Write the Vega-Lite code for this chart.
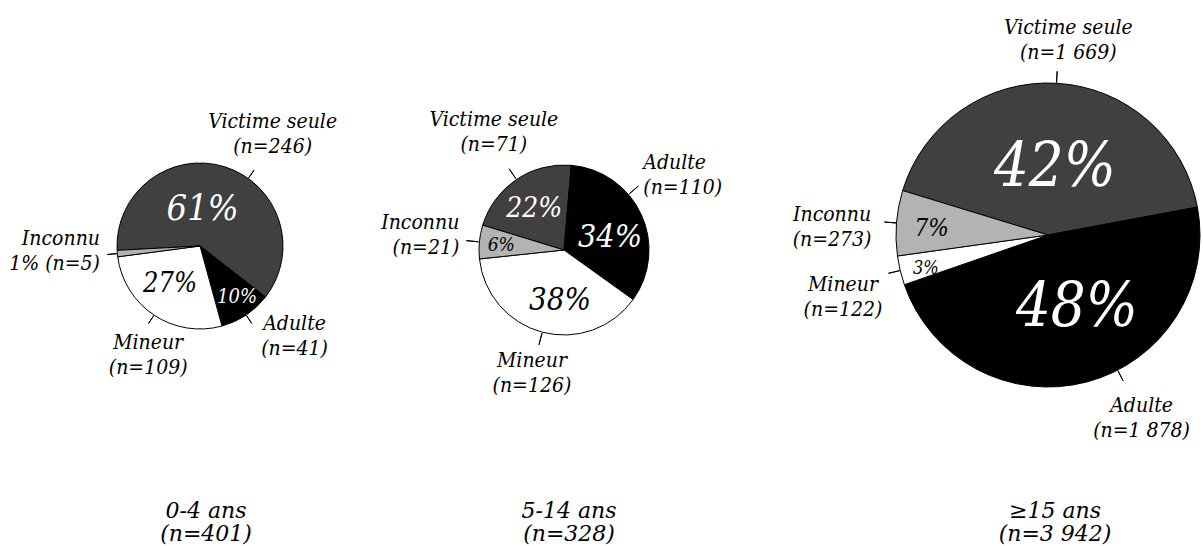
{
  "$schema": "https://vega.github.io/schema/vega-lite/v6.json",
  "padding": 0,
  "spacing": 0,
  "bounds": "flush",
  "background": "white",
  "config": {
    "font": "DejaVu Serif",
    "view": {"stroke": null},
    "text": {"font": "DejaVu Serif Condensed", "fontStyle": "italic", "fontWeight": "normal"},
    "title": {"font": "DejaVu Serif", "fontStyle": "italic", "fontWeight": "normal", "fontSize": 22, "lineHeight": 23, "color": "black"}
  },
  "data": {
    "values": [
      {"age": "0-4 ans", "cat": "Victime seule", "ordre": 1, "n": 246, "pct": "61%", "lab": "Victime seule\n(n=246)"},
      {"age": "0-4 ans", "cat": "Adulte", "ordre": 2, "n": 41, "pct": "10%", "lab": "Adulte\n(n=41)"},
      {"age": "0-4 ans", "cat": "Mineur", "ordre": 3, "n": 109, "pct": "27%", "lab": "Mineur\n(n=109)"},
      {"age": "0-4 ans", "cat": "Inconnu", "ordre": 4, "n": 5, "pct": "", "lab": "Inconnu\n1% (n=5)"},
      {"age": "5-14 ans", "cat": "Victime seule", "ordre": 1, "n": 71, "pct": "22%", "lab": "Victime seule\n(n=71)"},
      {"age": "5-14 ans", "cat": "Adulte", "ordre": 2, "n": 110, "pct": "34%", "lab": "Adulte\n(n=110)"},
      {"age": "5-14 ans", "cat": "Mineur", "ordre": 3, "n": 126, "pct": "38%", "lab": "Mineur\n(n=126)"},
      {"age": "5-14 ans", "cat": "Inconnu", "ordre": 4, "n": 21, "pct": "6%", "lab": "Inconnu\n(n=21)"},
      {"age": "≥15 ans", "cat": "Victime seule", "ordre": 1, "n": 1669, "pct": "42%", "lab": "Victime seule\n(n=1 669)"},
      {"age": "≥15 ans", "cat": "Adulte", "ordre": 2, "n": 1878, "pct": "48%", "lab": "Adulte\n(n=1 878)"},
      {"age": "≥15 ans", "cat": "Mineur", "ordre": 3, "n": 122, "pct": "3%", "lab": "Mineur\n(n=122)"},
      {"age": "≥15 ans", "cat": "Inconnu", "ordre": 4, "n": 273, "pct": "7%", "lab": "Inconnu\n(n=273)"}
    ]
  },
  "hconcat": [
    {
      "width": 400,
      "height": 482,
      "transform": [{"filter": {"field": "age", "equal": "0-4 ans"}}],
      "title": {"text": ["0-4 ans", "(n=401)"], "orient": "bottom", "offset": 14, "dx": 6, "anchor": "middle", "frame": "group", "baseline": "top"},
      "encoding": {
        "theta": {"field": "n", "type": "quantitative", "stack": "normalize", "scale": {"range": [-1.623156, 4.660029]}},
        "order": {"field": "ordre", "type": "quantitative"}
      },
      "layer": [
        {"mark": {"type": "arc", "outerRadius": 83, "stroke": "black", "strokeWidth": 1},
         "encoding": {"color": {"field": "cat", "type": "nominal", "scale": {"domain": ["Victime seule", "Adulte", "Mineur", "Inconnu"], "range": ["#404040", "#000000", "#ffffff", "#b3b3b3"]}, "legend": null}}},
        {"mark": {"type": "arc", "innerRadius": 83.5, "outerRadius": 93, "padAngle": 3.14, "stroke": "black", "strokeWidth": 1, "fillOpacity": 0},
         "encoding": {"strokeOpacity": {"condition": {"test": "datum.cat === 'Victime seule'", "value": 0}, "value": 1}}},
        {"mark": {"type": "arc", "innerRadius": 83.5, "outerRadius": 93, "thetaOffset": 2.24275, "theta2Offset": 2.24275, "stroke": "black", "strokeWidth": 1, "fillOpacity": 0},
         "encoding": {"theta": {"field": "n", "type": "quantitative", "stack": "normalize", "bandPosition": 0, "scale": {"range": [-1.623156, 4.660029]}},
                      "strokeOpacity": {"condition": {"test": "datum.cat === 'Victime seule'", "value": 1}, "value": 0}}},
        {"mark": {"type": "text", "radius": 37.1, "fontSize": 36, "color": "white", "align": "center", "baseline": "middle"},
         "encoding": {"theta": {"field": "n", "type": "quantitative", "stack": "normalize", "bandPosition": 0.439, "scale": {"range": [-1.623156, 4.660029]}},
                      "text": {"condition": {"test": "datum.cat === 'Victime seule'", "field": "pct"}, "value": ""}}},
        {"mark": {"type": "text", "radius": 62.8, "fontSize": 20, "color": "white", "align": "center", "baseline": "middle"},
         "encoding": {"theta": {"field": "n", "type": "quantitative", "stack": "normalize", "bandPosition": 0.431, "scale": {"range": [-1.623156, 4.660029]}},
                      "text": {"condition": {"test": "datum.cat === 'Adulte'", "field": "pct"}, "value": ""}}},
        {"mark": {"type": "text", "radius": 48.7, "fontSize": 27, "color": "black", "align": "center", "baseline": "middle"},
         "encoding": {"theta": {"field": "n", "type": "quantitative", "stack": "normalize", "bandPosition": 0.545, "scale": {"range": [-1.623156, 4.660029]}},
                      "text": {"condition": {"test": "datum.cat === 'Mineur'", "field": "pct"}, "value": ""}}},
        {"mark": {"type": "text", "radius": 133, "dy": -12.5, "fontSize": 21, "lineHeight": 25, "lineBreak": "\n", "color": "black", "align": "center", "baseline": "middle"},
         "encoding": {"theta": {"field": "n", "type": "quantitative", "stack": "normalize", "bandPosition": 0.571, "scale": {"range": [-1.623156, 4.660029]}},
                      "text": {"condition": {"test": "datum.cat === 'Victime seule'", "field": "lab"}, "value": ""}}},
        {"mark": {"type": "text", "radius": 131.2, "dy": -12.5, "fontSize": 21, "lineHeight": 25, "lineBreak": "\n", "color": "black", "align": "center", "baseline": "middle"},
         "encoding": {"theta": {"field": "n", "type": "quantitative", "stack": "normalize", "bandPosition": 0.164, "scale": {"range": [-1.623156, 4.660029]}},
                      "text": {"condition": {"test": "datum.cat === 'Adulte'", "field": "lab"}, "value": ""}}},
        {"mark": {"type": "text", "radius": 121, "dy": -12.5, "fontSize": 21, "lineHeight": 25, "lineBreak": "\n", "color": "black", "align": "center", "baseline": "middle"},
         "encoding": {"theta": {"field": "n", "type": "quantitative", "stack": "normalize", "bandPosition": 0.416, "scale": {"range": [-1.623156, 4.660029]}},
                      "text": {"condition": {"test": "datum.cat === 'Mineur'", "field": "lab"}, "value": ""}}},
        {"mark": {"type": "text", "radius": 100.2, "dy": -12.5, "fontSize": 21, "lineHeight": 25, "lineBreak": "\n", "color": "black", "align": "right", "baseline": "middle"},
         "encoding": {"theta": {"field": "n", "type": "quantitative", "stack": "normalize", "bandPosition": 0.91, "scale": {"range": [-1.623156, 4.660029]}},
                      "text": {"condition": {"test": "datum.cat === 'Inconnu'", "field": "lab"}, "value": ""}}}
      ]
    },
    {
      "spacing": 165,
      "bounds": "flush",
      "hconcat": [
        {
          "width": 328,
          "height": 490,
          "transform": [{"filter": {"field": "age", "equal": "5-14 ans"}}],
          "title": {"text": ["5-14 ans", "(n=328)"], "orient": "bottom", "offset": 6, "dx": 5, "anchor": "middle", "frame": "group", "baseline": "top"},
          "encoding": {
            "theta": {"field": "n", "type": "quantitative", "stack": "normalize", "scale": {"range": [-1.27409, 5.009095]}},
            "order": {"field": "ordre", "type": "quantitative"}
          },
          "layer": [
            {"mark": {"type": "arc", "outerRadius": 85, "stroke": "black", "strokeWidth": 1},
             "encoding": {"color": {"field": "cat", "type": "nominal", "scale": {"domain": ["Victime seule", "Adulte", "Mineur", "Inconnu"], "range": ["#404040", "#000000", "#ffffff", "#b3b3b3"]}, "legend": null}}},
            {"mark": {"type": "arc", "innerRadius": 86, "outerRadius": 98, "padAngle": 3.14, "stroke": "black", "strokeWidth": 1, "fillOpacity": 0},
             "encoding": {"strokeOpacity": {"condition": {"test": "datum.cat === 'Adulte'", "value": 0}, "value": 1}}},
            {"mark": {"type": "arc", "innerRadius": 86, "outerRadius": 98, "padAngle": 3.14, "stroke": "black", "strokeWidth": 1, "fillOpacity": 0},
             "encoding": {"theta": {"field": "n", "type": "quantitative", "stack": "normalize", "bandPosition": 0.735, "scale": {"range": [-1.27409, 5.009095]}},
                          "strokeOpacity": {"condition": {"test": "datum.cat === 'Adulte'", "value": 1}, "value": 0}}},
            {"mark": {"type": "text", "radius": 50.9, "fontSize": 28, "color": "white", "align": "center", "baseline": "middle"},
             "encoding": {"theta": {"field": "n", "type": "quantitative", "stack": "normalize", "bandPosition": 0.477, "scale": {"range": [-1.27409, 5.009095]}},
                          "text": {"condition": {"test": "datum.cat === 'Victime seule'", "field": "pct"}, "value": ""}}},
            {"mark": {"type": "text", "radius": 47.8, "fontSize": 32, "color": "white", "align": "center", "baseline": "middle"},
             "encoding": {"theta": {"field": "n", "type": "quantitative", "stack": "normalize", "bandPosition": 0.575, "scale": {"range": [-1.27409, 5.009095]}},
                          "text": {"condition": {"test": "datum.cat === 'Adulte'", "field": "pct"}, "value": ""}}},
            {"mark": {"type": "text", "radius": 50.7, "fontSize": 31, "color": "black", "align": "center", "baseline": "middle"},
             "encoding": {"theta": {"field": "n", "type": "quantitative", "stack": "normalize", "bandPosition": 0.425, "scale": {"range": [-1.27409, 5.009095]}},
                          "text": {"condition": {"test": "datum.cat === 'Mineur'", "field": "pct"}, "value": ""}}},
            {"mark": {"type": "text", "radius": 63, "fontSize": 19, "color": "black", "align": "center", "baseline": "middle"},
             "encoding": {"theta": {"field": "n", "type": "quantitative", "stack": "normalize", "bandPosition": 0.46, "scale": {"range": [-1.27409, 5.009095]}},
                          "text": {"condition": {"test": "datum.cat === 'Inconnu'", "field": "pct"}, "value": ""}}},
            {"mark": {"type": "text", "radius": 137, "dy": -12.5, "fontSize": 21, "lineHeight": 25, "lineBreak": "\n", "color": "black", "align": "center", "baseline": "middle"},
             "encoding": {"theta": {"field": "n", "type": "quantitative", "stack": "normalize", "bandPosition": 0.5415, "scale": {"range": [-1.27409, 5.009095]}},
                          "text": {"condition": {"test": "datum.cat === 'Victime seule'", "field": "lab"}, "value": ""}}},
            {"mark": {"type": "text", "radius": 108.9, "dy": -12.5, "fontSize": 21, "lineHeight": 25, "lineBreak": "\n", "color": "black", "align": "left", "baseline": "middle"},
             "encoding": {"theta": {"field": "n", "type": "quantitative", "stack": "normalize", "bandPosition": 0.346, "scale": {"range": [-1.27409, 5.009095]}},
                          "text": {"condition": {"test": "datum.cat === 'Adulte'", "field": "lab"}, "value": ""}}},
            {"mark": {"type": "text", "radius": 127.7, "dy": -12.5, "fontSize": 21, "lineHeight": 25, "lineBreak": "\n", "color": "black", "align": "center", "baseline": "middle"},
             "encoding": {"theta": {"field": "n", "type": "quantitative", "stack": "normalize", "bandPosition": 0.498, "scale": {"range": [-1.27409, 5.009095]}},
                          "text": {"condition": {"test": "datum.cat === 'Mineur'", "field": "lab"}, "value": ""}}},
            {"mark": {"type": "text", "radius": 105.7, "dy": -12.5, "fontSize": 21, "lineHeight": 25, "lineBreak": "\n", "color": "black", "align": "right", "baseline": "middle"},
             "encoding": {"theta": {"field": "n", "type": "quantitative", "stack": "normalize", "bandPosition": 0.61, "scale": {"range": [-1.27409, 5.009095]}},
                          "text": {"condition": {"test": "datum.cat === 'Inconnu'", "field": "lab"}, "value": ""}}}
          ]
        },
        {
          "width": 310,
          "height": 460,
          "transform": [{"filter": {"field": "age", "equal": "≥15 ans"}}],
          "title": {"text": ["≥15 ans", "(n=3 942)"], "orient": "bottom", "offset": 36, "dx": 7, "anchor": "middle", "frame": "group", "baseline": "top"},
          "encoding": {
            "theta": {"field": "n", "type": "quantitative", "stack": "normalize", "scale": {"range": [-1.27409, 5.009095]}},
            "order": {"field": "ordre", "type": "quantitative"}
          },
          "layer": [
            {"mark": {"type": "arc", "outerRadius": 152, "stroke": "black", "strokeWidth": 1},
             "encoding": {"color": {"field": "cat", "type": "nominal", "scale": {"domain": ["Victime seule", "Adulte", "Mineur", "Inconnu"], "range": ["#404040", "#000000", "#ffffff", "#b3b3b3"]}, "legend": null}}},
            {"mark": {"type": "arc", "innerRadius": 152.5, "outerRadius": 164, "padAngle": 3.14, "stroke": "black", "strokeWidth": 1, "fillOpacity": 0},
             "encoding": {"strokeOpacity": {"condition": {"test": "datum.cat === 'Adulte'", "value": 0}, "value": 1}}},
            {"mark": {"type": "arc", "innerRadius": 152.5, "outerRadius": 164, "padAngle": 3.14, "stroke": "black", "strokeWidth": 1, "fillOpacity": 0},
             "encoding": {"theta": {"field": "n", "type": "quantitative", "stack": "normalize", "bandPosition": 0.855, "scale": {"range": [-1.27409, 5.009095]}},
                          "strokeOpacity": {"condition": {"test": "datum.cat === 'Adulte'", "value": 1}, "value": 0}}},
            {"mark": {"type": "text", "radius": 67, "fontSize": 61, "color": "white", "align": "center", "baseline": "middle"},
             "encoding": {"theta": {"field": "n", "type": "quantitative", "stack": "normalize", "bandPosition": 0.518, "scale": {"range": [-1.27409, 5.009095]}},
                          "text": {"condition": {"test": "datum.cat === 'Victime seule'", "field": "pct"}, "value": ""}}},
            {"mark": {"type": "text", "radius": 78.1, "fontSize": 61, "color": "white", "align": "center", "baseline": "middle"},
             "encoding": {"theta": {"field": "n", "type": "quantitative", "stack": "normalize", "bandPosition": 0.46, "scale": {"range": [-1.27409, 5.009095]}},
                          "text": {"condition": {"test": "datum.cat === 'Adulte'", "field": "pct"}, "value": ""}}},
            {"mark": {"type": "text", "radius": 126.9, "fontSize": 18, "color": "black", "align": "center", "baseline": "middle"},
             "encoding": {"theta": {"field": "n", "type": "quantitative", "stack": "normalize", "bandPosition": 0.31, "scale": {"range": [-1.27409, 5.009095]}},
                          "text": {"condition": {"test": "datum.cat === 'Mineur'", "field": "pct"}, "value": ""}}},
            {"mark": {"type": "text", "radius": 116.5, "fontSize": 24, "color": "black", "align": "center", "baseline": "middle"},
             "encoding": {"theta": {"field": "n", "type": "quantitative", "stack": "normalize", "bandPosition": 0.446, "scale": {"range": [-1.27409, 5.009095]}},
                          "text": {"condition": {"test": "datum.cat === 'Inconnu'", "field": "pct"}, "value": ""}}},
            {"mark": {"type": "text", "radius": 196, "dy": -12.5, "fontSize": 21, "lineHeight": 25, "lineBreak": "\n", "color": "black", "align": "center", "baseline": "middle"},
             "encoding": {"theta": {"field": "n", "type": "quantitative", "stack": "normalize", "bandPosition": 0.518, "scale": {"range": [-1.27409, 5.009095]}},
                          "text": {"condition": {"test": "datum.cat === 'Victime seule'", "field": "lab"}, "value": ""}}},
            {"mark": {"type": "text", "radius": 206.1, "dy": -12.5, "fontSize": 21, "lineHeight": 25, "lineBreak": "\n", "color": "black", "align": "center", "baseline": "middle"},
             "encoding": {"theta": {"field": "n", "type": "quantitative", "stack": "normalize", "bandPosition": 0.429, "scale": {"range": [-1.27409, 5.009095]}},
                          "text": {"condition": {"test": "datum.cat === 'Adulte'", "field": "lab"}, "value": ""}}},
            {"mark": {"type": "text", "radius": 214.2, "dy": -12.5, "fontSize": 21, "lineHeight": 25, "lineBreak": "\n", "color": "black", "align": "center", "baseline": "middle"},
             "encoding": {"theta": {"field": "n", "type": "quantitative", "stack": "normalize", "bandPosition": 0.2, "scale": {"range": [-1.27409, 5.009095]}},
                          "text": {"condition": {"test": "datum.cat === 'Mineur'", "field": "lab"}, "value": ""}}},
            {"mark": {"type": "text", "radius": 216.1, "dy": -12.5, "fontSize": 21, "lineHeight": 25, "lineBreak": "\n", "color": "black", "align": "center", "baseline": "middle"},
             "encoding": {"theta": {"field": "n", "type": "quantitative", "stack": "normalize", "bandPosition": 0.4, "scale": {"range": [-1.27409, 5.009095]}},
                          "text": {"condition": {"test": "datum.cat === 'Inconnu'", "field": "lab"}, "value": ""}}}
          ]
        }
      ]
    }
  ]
}
